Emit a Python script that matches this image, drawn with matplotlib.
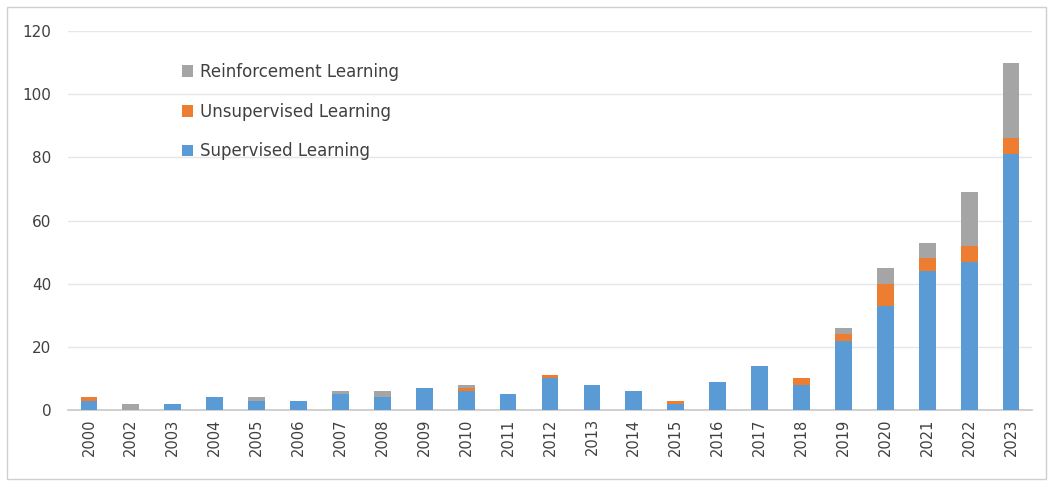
import matplotlib.pyplot as plt
from matplotlib.patches import Rectangle
import numpy as np

years = ["2000", "2002", "2003", "2004", "2005", "2006", "2007", "2008", "2009", "2010",
         "2011", "2012", "2013", "2014", "2015", "2016", "2017", "2018", "2019", "2020",
         "2021", "2022", "2023"]
supervised = [3, 0, 2, 4, 3, 3, 5, 4, 7, 6, 5, 10, 8, 6, 2, 9, 14, 8, 22, 33, 44, 47, 81]
unsupervised = [1, 0, 0, 0, 0, 0, 0, 0, 0, 1, 0, 1, 0, 0, 1, 0, 0, 2, 2, 7, 4, 5, 5]
reinforcement = [0, 2, 0, 0, 1, 0, 1, 2, 0, 1, 0, 0, 0, 0, 0, 0, 0, 0, 2, 5, 5, 17, 24]

y_ticks = [0, 20, 40, 60, 80, 100, 120]

blue = "#5B9BD5"
orange = "#ED7D31"
gray = "#A5A5A5"

fig = plt.figure(figsize=(10.53, 4.86), dpi=100)
ax = fig.add_axes([68 / 1053, 1 - 410 / 486, 964 / 1053, 379 / 486])

x = np.arange(len(years))
s = np.array(supervised)
u = np.array(unsupervised)
r = np.array(reinforcement)
w = 0.40

b1 = ax.bar(x, s, w, color=blue, label="Supervised Learning", zorder=3)
b2 = ax.bar(x, u, w, bottom=s, color=orange, label="Unsupervised Learning", zorder=3)
b3 = ax.bar(x, r, w, bottom=s + u, color=gray, label="Reinforcement Learning", zorder=3)

ax.set_xlim(-0.5, len(years) - 0.5)
ax.set_ylim(0, 120)
ax.set_yticks(y_ticks)
ax.set_xticks(x)
ax.set_xticklabels(years, rotation=90, fontsize=10.5, color="#404040")
ax.tick_params(axis="y", labelsize=11, labelcolor="#404040", length=0, pad=12)
ax.tick_params(axis="x", length=0, pad=6)
ax.grid(axis="y", color="#E6E6E6", linewidth=1, zorder=0)

for side in ["left", "right", "top"]:
    ax.spines[side].set_visible(False)
ax.spines["bottom"].set_color("#C8C8C8")
ax.spines["bottom"].set_linewidth(1.2)

ax.legend(handles=[b3, b2, b1], loc="upper left", bbox_to_anchor=(0.1025, 0.955),
          frameon=False, fontsize=12, handlelength=0.7, handleheight=0.7,
          handletextpad=0.4, labelspacing=1.3, labelcolor="#404040")

fig.patches.append(Rectangle((7 / 1053, 7 / 486), 1 - 14 / 1053, 1 - 14 / 486,
                             transform=fig.transFigure, fill=False,
                             edgecolor="#CFCFCF", linewidth=1))

plt.savefig("out.png")
